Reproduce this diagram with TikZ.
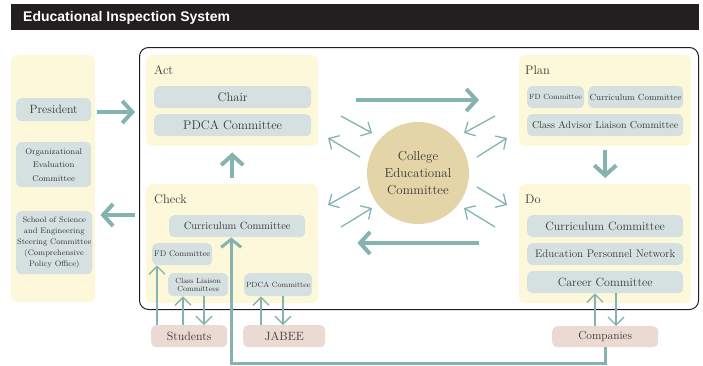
\documentclass[tikz,border=0pt]{standalone}
\usepackage{fontspec}
\newfontfamily\titlefont{Liberation Sans}
\usetikzlibrary{arrows.meta,calc}
\definecolor{panelY}{HTML}{FDF8DA}
\definecolor{boxB}{HTML}{D5E1E0}
\definecolor{boxP}{HTML}{EADAD2}
\definecolor{arrowC}{HTML}{85B3B1}
\definecolor{circC}{HTML}{E3D5A7}
\definecolor{txtC}{HTML}{383838}
\definecolor{barC}{HTML}{231F20}
\newcommand\myfs[2]{\fontsize{#1}{#2}\selectfont}
\newcommand\mybox[7]{\node[#6, minimum width={#4pt-#2pt}, minimum height={#5pt-#3pt}, anchor=north west] (#1) at (#2,#3) {#7};}
\tikzset{
  panel/.style={fill=panelY, rounded corners=6pt, inner sep=0pt},
  bbox/.style={fill=boxB, rounded corners=5pt, inner sep=1pt, align=center, text=txtC},
  pbox/.style={fill=boxP, rounded corners=5pt, inner sep=1pt, align=center, text=txtC},
  lbl/.style={text=txtC, inner sep=0pt, anchor=west, font=\myfs{12.5}{14}},
  bigarrow/.style={draw=arrowC, line width=4pt, -{Straight Barb[length=10pt,width=22pt]}},
  midarrow/.style={draw=arrowC, line width=3pt, -{Straight Barb[length=8pt,width=20pt]}},
  thinarrow/.style={draw=arrowC, line width=1.3pt, -{Straight Barb[length=8pt,width=16pt]}},
}
\begin{document}
\begin{tikzpicture}[x=1pt,y=-1pt]
\useasboundingbox (0,0) rectangle (703,365);
% title bar
\fill[barC] (11,4) rectangle (699,30);
\node[anchor=west, text=white, inner sep=0pt, font=\titlefont\bfseries\myfs{14}{16}] (title) at (23,17.5) {Educational Inspection System};

% frame
\mybox{frame}{139}{47}{698}{309}{draw=barC, line width=1pt, rounded corners=9pt, inner sep=0pt}{}

% left panel
\mybox{lp}{11}{55}{95}{302}{panel}{}
\mybox{pres}{16}{98}{91}{121}{bbox,font=\myfs{12}{14}}{President}
\mybox{org}{16}{142}{91}{187}{bbox,font=\myfs{8.3}{13.5}}{Organizational\\Evaluation\\Committee}
\mybox{school}{16}{211}{91}{274}{bbox,font=\myfs{8}{11.2}}{School of Science\\and Engineering\\Steering Committee\\(Comprehensive\\Policy Office)}

% Act
\mybox{act}{146}{55}{318}{146}{panel}{}
\node[lbl] (actl) at (154,70) {Act};
\mybox{chair}{154}{86}{311}{108}{bbox,font=\myfs{12.5}{14}}{Chair}
\mybox{pdca1}{154}{114}{311}{136}{bbox,font=\myfs{12.5}{14}}{PDCA Committee}

% Check
\mybox{check}{146}{184}{318}{303}{panel}{}
\node[lbl] (checkl) at (154,199) {Check};
\mybox{cc2}{169}{215}{305}{237}{bbox,font=\myfs{10.5}{12}}{Curriculum Committee}
\mybox{fd2}{152}{243}{212}{265}{bbox,font=\myfs{8}{9}}{FD Committee}
\mybox{cl2}{168}{273}{228}{296}{bbox,font=\myfs{7.5}{7.5}}{Class Liaison\\Committees}
\mybox{pdca2}{244}{273}{312}{296}{bbox,font=\myfs{7.5}{9}}{PDCA Committee}

% Plan
\mybox{plan}{519}{55}{691}{146}{panel}{}
\node[lbl] (planl) at (525,70) {Plan};
\mybox{fd3}{527}{86}{584}{108}{bbox,font=\myfs{7.5}{9}}{FD Committee}
\mybox{cc3}{588}{86}{683}{108}{bbox,font=\myfs{8.8}{10}}{Curriculum Committee}
\mybox{cal3}{527}{114}{683}{136}{bbox,font=\myfs{10}{12}}{Class Advisor Liaison Committee}

% Do
\mybox{do}{519}{184}{691}{303}{panel}{}
\node[lbl] (dol) at (525,199) {Do};
\mybox{cc4}{527}{215}{683}{237}{bbox,font=\myfs{12}{14}}{Curriculum Committee}
\mybox{epn}{527}{243}{683}{265}{bbox,font=\myfs{11}{13}}{Education Personnel Network}
\mybox{car}{527}{271}{683}{293}{bbox,font=\myfs{12}{14}}{Career Committee}

% outside
\mybox{stu}{151}{325}{227}{347}{pbox,font=\myfs{12}{14}}{Students}
\mybox{jab}{243}{325}{325}{347}{pbox,font=\myfs{12}{14}}{JABEE}
\mybox{comp}{552}{326}{658}{347}{pbox,font=\myfs{11.5}{14}}{Companies}

% circle
\node[circle, fill=circC, minimum size=102pt, inner sep=0pt, align=center, text=txtC, font=\myfs{13}{17}] (cec) at (418,173) {College\\Educational\\Committee};

% big arrows
\coordinate (yA) at (0,112);
\coordinate (yB) at (0,215);
\coordinate (yC) at (0,100);
\coordinate (yD) at (0,243);
\draw[bigarrow, shorten <=2pt, shorten >=4pt] (lp.east |- yA) -- (frame.west |- yA);
\draw[bigarrow, shorten <=4pt, shorten >=5pt] (frame.west |- yB) -- (lp.east |- yB);
\draw[bigarrow, shorten <=6pt, shorten >=6pt] (check.north) -- (act.south);
\draw[bigarrow, shorten <=4pt, shorten >=6pt] (plan.south) -- (do.north);
\draw[bigarrow, shorten <=38pt, shorten >=40pt] (act.east |- yC) -- (plan.west |- yC);
\draw[bigarrow, shorten <=40pt, shorten >=39pt] (do.west |- yD) -- (check.east |- yD);

% companies to check curriculum committee
\draw[midarrow] (comp.south) -- ++(0,16) -| ([xshift=-6pt]cc2.south);

% thin arrows, students / JABEE / companies
\draw[thinarrow] ([xshift=6pt]stu.north west) -- ([xshift=5pt]fd2.south west);
\draw[thinarrow] ([xshift=32pt]stu.north west) -- ([xshift=15pt]cl2.south west);
\draw[thinarrow] ([xshift=36pt]cl2.south west) -- ([xshift=53pt]stu.north west);
\draw[thinarrow] ([xshift=18pt]jab.north west) -- ([xshift=17pt]pdca2.south west);
\draw[thinarrow] ([xshift=39pt]pdca2.south west) -- ([xshift=40pt]jab.north west);
\draw[thinarrow] ([xshift=43pt]comp.north west) -- ([xshift=68pt]car.south west);
\draw[thinarrow] ([xshift=89pt]car.south west) -- ([xshift=64pt]comp.north west);

% arrows around the circle
\draw[thinarrow] ([shift={(-77,-57)}]cec.center) -- ([shift={(-46,-40)}]cec.center);
\draw[thinarrow] ([shift={(-58,-16)}]cec.center) -- ([shift={(-90,-35)}]cec.center);
\draw[thinarrow] ([shift={(77,-57)}]cec.center) -- ([shift={(46,-40)}]cec.center);
\draw[thinarrow] ([shift={(59,-16)}]cec.center) -- ([shift={(89,-35)}]cec.center);
\draw[thinarrow] ([shift={(-58,14)}]cec.center) -- ([shift={(-90,32)}]cec.center);
\draw[thinarrow] ([shift={(-77,54)}]cec.center) -- ([shift={(-46,35)}]cec.center);
\draw[thinarrow] ([shift={(59,14)}]cec.center) -- ([shift={(89,32)}]cec.center);
\draw[thinarrow] ([shift={(77,54)}]cec.center) -- ([shift={(46,35)}]cec.center);
\end{tikzpicture}
\end{document}
